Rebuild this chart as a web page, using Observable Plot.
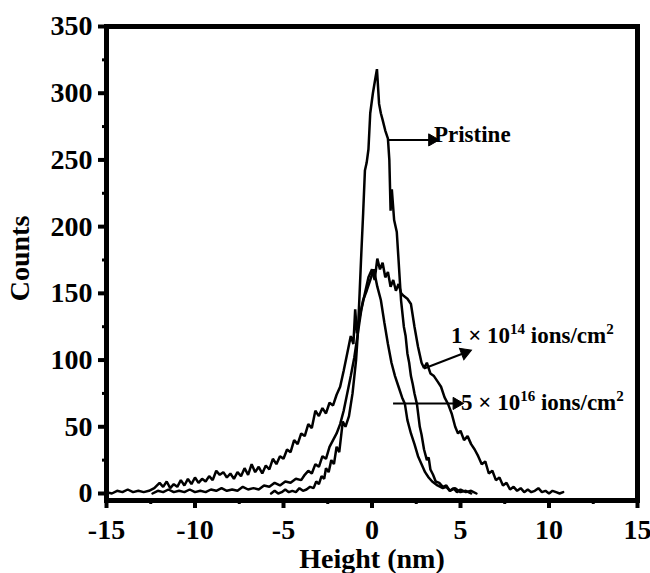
<!DOCTYPE html>
<html><head><meta charset="utf-8">
<script src="https://cdn.jsdelivr.net/npm/d3@7"></script>
<script src="https://cdn.jsdelivr.net/npm/@observablehq/plot@0.6"></script>
<style>body{margin:0;background:#fff} svg text{font-weight:bold}</style>
</head><body><div id="chart"></div>
<script>
// Series: Pristine
const pristineX = [-5.7,-5.5,-5.3,-5.1,-4.9,-4.7,-4.5,-4.3,-4.1,-3.9,-3.7,-3.5,-3.3,-3.15,-3.0,-2.85,-2.7,-2.6,-2.45,-2.3,-2.15,-2.0,-1.85,-1.65,-1.5,-1.3,-1.1,-0.9,-0.8,-0.7,-0.62,-0.5,-0.4,-0.3,-0.2,-0.1,0.05,0.2,0.28,0.4,0.5,0.6,0.75,0.9,0.98,1.05,1.12,1.25,1.4,1.5,1.64,1.8,1.9,2.0,2.1,2.2,2.3,2.4,2.54,2.7,2.8,2.94,3.1,3.2,3.3,3.45,3.6,3.8,4.0,4.2,4.4,4.7,5.0,5.3,5.6];
const pristineY = [0,2,0,1,3,1,2,1,4,2,3,5,4,9,7,13,11,19,16,25,22,35,31,54,50,58,75,100,120,150,175,210,242,248,258,285,300,312,318,292,285,280,272,266,250,212,228,205,196,175,145,125,118,105,98,88,82,75,67,50,44,33,25,27,18,14,9,8,5,6,2,4,1,2,0];
// Series: 1 × 10^14 ions/cm^2
const dose14X = [-12.4,-12.1,-11.8,-11.5,-11.2,-10.9,-10.6,-10.3,-10.0,-9.7,-9.4,-9.1,-8.8,-8.5,-8.2,-7.9,-7.6,-7.3,-7.0,-6.7,-6.4,-6.1,-5.8,-5.5,-5.2,-4.9,-4.6,-4.3,-4.0,-3.8,-3.6,-3.4,-3.2,-3.0,-2.8,-2.6,-2.4,-2.2,-2.0,-1.8,-1.6,-1.4,-1.2,-1.0,-0.8,-0.6,-0.4,-0.2,0,0.15,0.3,0.45,0.6,0.75,0.9,1.05,1.2,1.35,1.5,1.65,1.8,2.0,2.2,2.4,2.6,2.8,2.94,3.1,3.3,3.5,3.7,3.9,4.1,4.3,4.5,4.7,4.86,5.0,5.2,5.4,5.6,5.8,6.0,6.2,6.4,6.6,6.8,7.0,7.2,7.4,7.6,7.8,8.0,8.2,8.4,8.6,8.8,9.0,9.2,9.4,9.6,9.8,10.0,10.2,10.4,10.6,10.8];
const dose14Y = [0,2,1,3,1,2,1,3,1,2,1,3,2,4,2,3,2,5,3,4,3,6,5,8,6,9,8,11,10,14,17,15,22,20,28,26,35,40,45,52,62,75,88,102,120,138,150,162,168,160,176,168,173,162,166,155,160,152,157,150,148,146,142,125,110,98,94,98,90,88,84,80,72,67,60,50,45,47,40,43,37,33,28,22,24,15,17,10,12,6,8,3,5,2,4,1,3,1,2,4,1,2,0,2,1,0,1];
// Series: 5 × 10^16 ions/cm^2
const dose16X = [-15,-14.7,-14.4,-14.1,-13.8,-13.5,-13.2,-12.9,-12.6,-12.3,-12.0,-11.8,-11.6,-11.4,-11.2,-11.0,-10.8,-10.6,-10.4,-10.2,-10.0,-9.8,-9.6,-9.4,-9.2,-9.0,-8.8,-8.6,-8.4,-8.2,-8.0,-7.8,-7.6,-7.4,-7.2,-7.0,-6.8,-6.6,-6.4,-6.2,-6.0,-5.8,-5.6,-5.4,-5.2,-5.0,-4.8,-4.6,-4.4,-4.2,-4.0,-3.8,-3.6,-3.4,-3.2,-3.0,-2.8,-2.6,-2.4,-2.2,-2.0,-1.8,-1.6,-1.4,-1.2,-1.05,-0.95,-0.85,-0.7,-0.5,-0.3,-0.1,0.1,0.3,0.5,0.7,0.9,1.1,1.3,1.5,1.7,1.86,2.0,2.2,2.4,2.6,2.8,3.0,3.2,3.4,3.7,4.0,4.2,4.4,4.6,4.8,5.0,5.3,5.6,5.9];
const dose16Y = [1,0,2,1,3,1,2,1,2,4,8,5,9,4,7,5,10,6,11,7,12,8,11,9,13,10,17,14,16,12,15,11,16,13,19,14,22,16,20,15,21,18,26,22,28,26,33,31,40,37,45,43,52,49,62,58,64,60,68,66,74,80,92,105,118,112,138,120,132,145,152,160,168,155,145,128,112,98,88,80,72,67,55,45,37,28,22,16,12,9,6,4,5,2,4,1,3,1,2,0];

const seriesNames = ["Pristine", "1e14", "5e16"];
const xTicks = [-15,-10,-5,0,5,10,15];
const xMinor = [-12.5,-7.5,-2.5,2.5,7.5,12.5];
const yTicks = [0,50,100,150,200,250,300,350];
const yMinor = [25,75,125,175,225,275,325];
const xTitle = "Height (nm)";
const yTitle = "Counts";

const annLabels = ["Pristine", "1 × 10^14 ions/cm^2", "5 × 10^16 ions/cm^2"];
const annX = [3.5, 4.46, 5.03];
const annY = [269, 118.5, 68];
const arrX1 = [0.9, 2.94, 1.19];
const arrY1 = [265, 93.7, 67.5];
const arrX2 = [3.4, 5.25, 4.78];
const arrY2 = [265, 105.5, 67.5];

const rows = [];
[[pristineX, pristineY], [dose14X, dose14Y], [dose16X, dose16Y]].forEach(([xs, ys], i) => {
  xs.forEach((x, j) => rows.push({series: seriesNames[i], x, y: ys[j]}));
});
const anns = annLabels.map((t, i) => ({t, x: annX[i], y: annY[i]}));

const xDomain = [-15, 15], yDomain = [-5.25, 350];
const W = 650, H = 573, mL = 106, mR = 13, mT = 26, mB = 73;
const sx = Plot.scale({x: {domain: xDomain, range: [mL, W - mR]}});
const sy = Plot.scale({y: {domain: yDomain, range: [H - mB, mT]}});
const arrows = arrX1.map((x1, i) => {
  const dxp = sx.apply(arrX2[i]) - sx.apply(x1), dyp = sy.apply(arrY2[i]) - sy.apply(arrY1[i]);
  return {x1, y1: arrY1[i], x2: arrX2[i], y2: arrY2[i], angle: 90 + Math.atan2(dyp, dxp) * 180 / Math.PI};
});

const font = "'Liberation Serif', 'Times New Roman', serif";
const fmt = d => String(d);
const chart = Plot.plot({
  width: W, height: H,
  marginLeft: mL, marginRight: mR, marginTop: mT, marginBottom: mB,
  style: {fontFamily: font, background: "white", color: "black", overflow: "visible"},
  x: {domain: xDomain, label: null},
  y: {domain: yDomain, label: null},
  marks: [
    Plot.line(rows, {x: "x", y: "y", z: "series", stroke: "black", strokeWidth: 2.5, strokeLinejoin: "miter"}),
    Plot.frame({stroke: "black", strokeWidth: 5}),
    Plot.axisX(xTicks, {tickSize: 8, tickPadding: 11, strokeWidth: 4, fontSize: 28, fontWeight: "bold", tickFormat: fmt, label: null}),
    Plot.axisX(xMinor, {tickSize: 4, strokeWidth: 3, tickFormat: () => "", label: null}),
    Plot.axisY(yTicks, {tickSize: 8, tickPadding: 6, strokeWidth: 4, fontSize: 28, fontWeight: "bold", tickFormat: fmt, label: null}),
    Plot.axisY(yMinor, {tickSize: 4, strokeWidth: 3, tickFormat: () => "", label: null}),
    Plot.text([xTitle], {frameAnchor: "bottom", dy: 59, fontSize: 28, fontWeight: "bold", lineAnchor: "middle", textAnchor: "middle"}),
    Plot.text([yTitle], {frameAnchor: "left", dx: -86, dy: -5, rotate: -90, fontSize: 28, fontWeight: "bold", lineAnchor: "middle", textAnchor: "middle"}),
    Plot.link(arrows, {x1: "x1", y1: "y1", x2: "x2", y2: "y2", stroke: "black", strokeWidth: 2}),
    Plot.dot(arrows, {x: "x2", y: "y2", symbol: "triangle", r: 4.5, fill: "black", stroke: "black", strokeWidth: 1, rotate: "angle"}),
    Plot.text(anns, {x: "x", y: "y", text: "t", textAnchor: "start", lineAnchor: "middle", fontSize: 23, fontWeight: "bold"})
  ]
});
document.getElementById("chart").appendChild(chart);
// render superscripts as tspans
d3.select(chart).selectAll("text").each(function() {
  const el = d3.select(this);
  const s = this.textContent;
  if (!s.includes("^")) return;
  const parts = s.split(/\^(\d+)/);
  el.text(null);
  let sup = false;
  parts.forEach((p, i) => {
    if (p === "") return;
    const ts = el.append("tspan").text(p);
    if (i % 2 === 1) { ts.attr("font-size", 15).attr("dy", -9); sup = true; }
    else if (sup) { ts.attr("dy", 9); sup = false; }
  });
});
</script>
</body></html>
